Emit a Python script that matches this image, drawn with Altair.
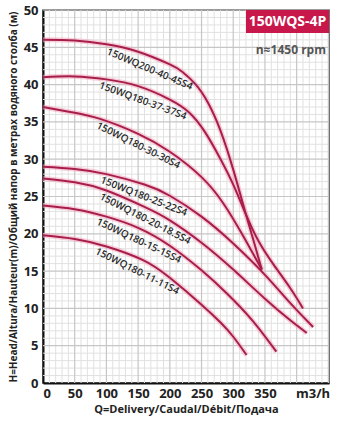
import math
import numpy as np
import altair as alt
import pandas as pd

# ---- data ----
curve_names = ["150WQ200-40-45S4", "150WQ180-37-37S4", "150WQ180-30-30S4",
               "150WQ180-25-22S4", "150WQ180-20-18.5S4", "150WQ180-15-15S4",
               "150WQ180-11-11S4"]

q_200_40_45 = [0, 50, 100, 150, 200, 220, 240, 260, 280, 300, 318, 333, 345]
h_200_40_45 = [46, 45.9, 45.4, 44.4, 42.7, 41.7, 40.1, 37.6, 33.8, 28.6, 23.2, 18.8, 15.2]

q_180_37_37 = [0, 50, 100, 150, 200, 230, 255, 280, 300, 320, 340, 365, 390, 410]
h_180_37_37 = [41, 41.1, 40.7, 39.8, 38, 36.3, 33.7, 30, 26.6, 22.6, 19, 15.7, 12.7, 10]

q_180_30_30 = [0, 45, 90, 150, 200, 250, 285, 315, 345]
h_180_30_30 = [37, 36.3, 35.4, 33.4, 31, 27.6, 24, 19.8, 15.2]

q_180_25_22 = [0, 50, 100, 160, 200, 250, 300, 350, 390, 426]
h_180_25_22 = [29, 28.7, 28, 26.6, 25.1, 22.3, 18.7, 14.5, 10.7, 7.5]

q_180_20_18 = [0, 50, 100, 160, 200, 250, 300, 350, 390, 416]
h_180_20_18 = [27.4, 26.9, 25.8, 23.6, 21.8, 18.8, 15.2, 11.3, 8.4, 6.7]

q_180_15_15 = [0, 50, 100, 150, 200, 250, 290, 330, 368]
h_180_15_15 = [23.8, 23.3, 22.3, 20.8, 18.4, 15.1, 12, 8.4, 4.2]

q_180_11_11 = [0, 50, 100, 157, 200, 250, 280, 300, 321]
h_180_11_11 = [19.8, 19.3, 18.3, 16.5, 14.1, 10.5, 8.1, 6.2, 3.75]

# where each curve label starts (Q)
label_start_q = [103, 91, 87, 93, 90, 87, 85]

x_ticks = [0, 50, 100, 150, 200, 250, 300, 350, 425]
y_ticks = [0, 5, 10, 15, 20, 25, 30, 35, 40, 45, 50]
x_minor = [v for v in range(0, 451, 10) if v % 50]
y_minor = [v for v in range(0, 51, 1) if v % 5]
x_major = list(range(50, 451, 50))
y_major = list(range(5, 51, 5))

# ---- build tables ----
XD = [0, 451]
YD = [0, 50]
W, H = 286, 373
sx = W / (XD[1] - XD[0])
sy = H / (YD[1] - YD[0])

series = [(q_200_40_45, h_200_40_45), (q_180_37_37, h_180_37_37),
          (q_180_30_30, h_180_30_30), (q_180_25_22, h_180_25_22),
          (q_180_20_18, h_180_20_18), (q_180_15_15, h_180_15_15),
          (q_180_11_11, h_180_11_11)]
rows = []
lab_rows = []
for name, (qs, hs), qa in zip(curve_names, series, label_start_q):
    for i, (q, h) in enumerate(zip(qs, hs)):
        rows.append({"name": name, "Q": q, "H": h, "i": i})
    # label placed as a chord just under its curve
    L = 5.6 * len(name)
    ha = float(np.interp(qa, qs, hs))
    qb = qa
    while True:
        qb += 0.5
        hb = float(np.interp(qb, qs, hs))
        if math.hypot((qb - qa) * sx, (ha - hb) * sy) >= L:
            break
    ang = math.degrees(math.atan2((ha - hb) * sy, (qb - qa) * sx))
    off = 6.3 / math.cos(math.radians(ang))
    lab_rows.append({"name": name, "Q": (qa + qb) / 2,
                     "H": (ha + hb) / 2 - off / sy, "angle": ang})
df = pd.DataFrame(rows)
labels = pd.DataFrame(lab_rows)

xs = alt.Scale(domain=XD, nice=False, zero=False)
ys = alt.Scale(domain=YD, nice=False, zero=False)
FONT = "Open Sans"
RED = "#A81E4B"

x_axis = alt.Axis(values=x_ticks, title="Q=Delivery/Caudal/Débit/Подача",
                  labelExpr="datum.value == 425 ? 'm3/h' : datum.label",
                  grid=False, ticks=False, domainColor="#111",
                  domainWidth=2, labelFontSize=13, labelFont=FONT,
                  labelFontWeight="bold", labelColor="#222", labelPadding=4,
                  titleFont=FONT, titleFontSize=11, titleFontWeight="bold",
                  titleColor="#222", titlePadding=3)
y_axis = alt.Axis(values=y_ticks,
                  title="H=Head/Altura/Hauteur(m)/Общий напор в метрах водяного столба (м)",
                  grid=False, ticks=False, domainColor="#111", domainWidth=2,
                  labelFontSize=13, labelFont=FONT, labelFontWeight="bold",
                  labelColor="#222", labelPadding=5,
                  titleFont=FONT, titleFontSize=10, titleFontWeight="bold",
                  titleColor="#222", titlePadding=5)

vminor = alt.Chart(pd.DataFrame({"Q": x_minor})).mark_rule(
    color="#E1E1E1", strokeWidth=1).encode(x=alt.X("Q:Q", scale=xs, axis=x_axis))
hminor = alt.Chart(pd.DataFrame({"H": y_minor})).mark_rule(
    color="#E1E1E1", strokeWidth=1).encode(y=alt.Y("H:Q", scale=ys, axis=y_axis))
vmajor = alt.Chart(pd.DataFrame({"Q": x_major})).mark_rule(
    color="#C6C6C6", strokeWidth=1.2).encode(x=alt.X("Q:Q", scale=xs, axis=x_axis))
hmajor = alt.Chart(pd.DataFrame({"H": y_major})).mark_rule(
    color="#C6C6C6", strokeWidth=1.2).encode(y=alt.Y("H:Q", scale=ys, axis=y_axis))

base = alt.Chart(df).encode(
    x=alt.X("Q:Q", scale=xs, axis=x_axis),
    y=alt.Y("H:Q", scale=ys, axis=y_axis),
    detail="name:N", order="i:Q")

glow = base.mark_line(color="#F2A7BE", strokeWidth=5, opacity=0.55, interpolate="natural")
line = base.mark_line(color=RED, strokeWidth=2, interpolate="natural")

text = alt.Chart(labels).mark_text(font=FONT, fontSize=10, fontWeight=600,
                                   color="#2a2a2a", align="center",
                                   baseline="middle").encode(
    x=alt.X("Q:Q", scale=xs, axis=x_axis), y=alt.Y("H:Q", scale=ys, axis=y_axis),
    angle=alt.Angle("angle:Q", scale=None), text="name:N")

box = alt.Chart(pd.DataFrame({"a": [1]})).mark_rect(color="#C8174A").encode(
    x=alt.value(203), x2=alt.value(286), y=alt.value(0), y2=alt.value(23))
box_text = alt.Chart(pd.DataFrame({"t": ["150WQS-4P"]})).mark_text(
    font=FONT, fontSize=14, fontWeight="bold", color="white").encode(
    x=alt.value(244.5), y=alt.value(12), text="t:N")
rpm_text = alt.Chart(pd.DataFrame({"t": ["n≈1450 rpm"]})).mark_text(
    font=FONT, fontSize=12, fontWeight="bold", color="#555", align="right").encode(
    x=alt.value(283), y=alt.value(40), text="t:N")

chart = alt.layer(vminor, hminor, vmajor, hmajor, glow, line, text,
                  box, box_text, rpm_text).properties(
    width=W, height=H,
    autosize=alt.AutoSizeParams(type="none"),
    padding={"left": 43, "top": 10, "right": 8, "bottom": 41},
    background="white",
).configure_view(stroke="#444", strokeWidth=1.5)

chart.save("out.html", embed_options={"renderer": "svg", "actions": False})
